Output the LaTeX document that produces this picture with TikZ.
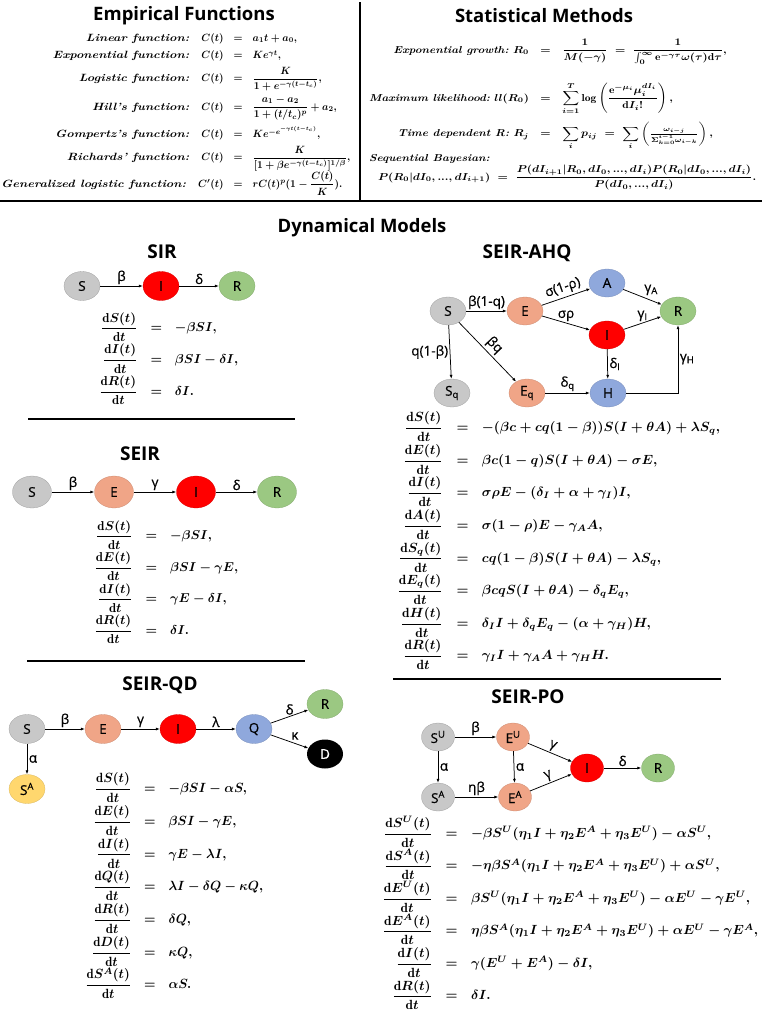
\documentclass[tikz,border=0pt]{standalone}
\usepackage{fontspec}
\usepackage{amsmath}
\usepackage{graphicx}
\usetikzlibrary{shapes.geometric,arrows.meta}
\newfontfamily\osans{Open Sans}
\newfontfamily\osansm{Open Sans}[FakeBold=0.6]
\definecolor{susc}{RGB}{200,200,200}
\definecolor{expd}{RGB}{240,165,135}
\definecolor{infc}{RGB}{255,0,0}
\definecolor{recv}{RGB}{155,200,130}
\definecolor{hosp}{RGB}{143,168,220}
\definecolor{aware}{RGB}{255,215,110}
% fraction rows get a fixed height so all rows sit evenly
\newcommand{\rate}[1]{\rule[-8.5pt]{0pt}{24.5pt}\dfrac{\mathrm{d}#1(t)}{\mathrm{d}t}}
\newcommand{\gap}[1]{\noalign{\vskip #1pt}}
\newcommand{\fname}[1]{\scalebox{1.25}[1]{\textit{#1}}\hspace{12pt}}
\newcommand{\eqblock}[3]{\resizebox*{#1pt}{#2pt}{$\begin{array}{@{}rcl@{}}#3\end{array}$}}
\begin{document}
\begin{tikzpicture}[x=1pt, y=-1pt,
  comp/.style={ellipse, inner sep=0pt, minimum width=36pt, minimum height=29pt,
    line width=0.3pt, font=\osansm\fontsize{13.5}{13.5}\selectfont},
  compS/.style={comp, fill=susc, draw=susc!80!black},
  compE/.style={comp, fill=expd, draw=expd!85!black},
  compI/.style={comp, fill=infc, draw=infc!85!black},
  compR/.style={comp, fill=recv, draw=recv!85!black},
  compH/.style={comp, fill=hosp, draw=hosp!85!black},
  compD/.style={comp, fill=black, text=white},
  compY/.style={comp, fill=aware, draw=aware!85!black},
  flow/.style={-{Latex[length=4pt,width=3pt]}, line width=0.75pt},
  lbl/.style={font=\osansm\fontsize{13.5}{13.5}\selectfont, inner sep=1.5pt},
  head/.style={font=\osans\bfseries\fontsize{18.5}{20}\selectfont},
  model/.style={font=\osans\bfseries\fontsize{19}{20}\selectfont},
  eqs/.style={anchor=north west, inner sep=0pt, font=\bfseries\boldmath},
  rule/.style={line width=2pt}]
\useasboundingbox (0,0) rectangle (762,1012);

% top panels
\node[head] (empTitle) at (184,16) {Empirical Functions};
\node[head] (statTitle) at (544,16) {Statistical Methods};
\draw[line width=2.5pt] (360,2) -- (360,201);
\draw[line width=2.5pt] (0,201) -- (762,201);
\node[eqs] (empEqs) at (1,32) {\eqblock{349}{163}{
  \fname{Linear function:} C(t) &=& a_1t+a_0,\\ \gap{5}
  \fname{Exponential function:} C(t) &=& Ke^{\gamma t},\\ \gap{4}
  \fname{Logistic function:} C(t) &=& \dfrac{K}{1+e^{-\gamma(t-t_c)}},\\ \gap{4}
  \fname{Hill's function:} C(t) &=& \dfrac{a_1-a_2}{1+(t/t_c)^p}+a_2,\\ \gap{6}
  \fname{Gompertz's function:} C(t) &=& Ke^{-e^{-\gamma t(t-t_c)}},\\ \gap{4}
  \fname{Richards' function:} C(t) &=& \dfrac{K}{[1+\beta e^{-\gamma(t-t_c)}]^{1/\beta}},\\ \gap{0}
  \fname{Generalized logistic function:} C'(t) &=& rC(t)^p(1-\dfrac{C(t)}{K}).}};
\node[eqs] (statEqs) at (369,39) {\eqblock{387}{151}{
  \textit{Exponential growth:}\ R_0 &=& \dfrac{1}{M(-\gamma)}\;=\;\dfrac{1}{\int_0^{\infty}\mathrm{e}^{-\gamma\tau}\omega(\tau)\mathrm{d}\tau},\\ \gap{18}
  \textit{Maximum likelihood:}\ ll(R_0) &=& \displaystyle\sum_{i=1}^{T}\log\left(\dfrac{\mathrm{e}^{-\mu_i}\mu_i^{dI_i}}{\mathrm{d}I_i!}\right),\\ \gap{8}
  \textit{Time dependent R:}\ R_j &=& \displaystyle\sum_i p_{ij}\;=\;\sum_i\left(\tfrac{\omega_{i-j}}{\Sigma_{k=0}^{i-1}\omega_{i-k}}\right),\\ \gap{3}
  \multicolumn{3}{@{}l}{\textit{Sequential Bayesian:}}\\
  \multicolumn{3}{@{}l@{}}{\ \ P(R_0|dI_0,...,dI_{i+1})\;=\;\dfrac{P(dI_{i+1}|R_0,dI_0,...,dI_i)P(R_0|dI_0,...,dI_i)}{P(dI_0,...,dI_i)}.}}};

\node[head] (dynTitle) at (362,228) {Dynamical Models};

% SIR
\node[model] (sirTitle) at (162,252) {SIR};
\node[compS] (sirS) at (82,286) {S};
\node[compI] (sirI) at (161,286) {I};
\node[compR] (sirR) at (237,286) {R};
\draw[flow] (sirS) -- node[lbl,above] {β} (sirI);
\draw[flow] (sirI) -- node[lbl,above] {δ} (sirR);
\node[eqs] (sirEqs) at (99,311) {\eqblock{139}{95}{
  \rate{S} &=& -\beta SI,\\
  \rate{I} &=& \beta SI-\delta I,\\
  \rate{R} &=& \delta I.}};
\draw[rule] (28,419) -- (295,419);

% SEIR
\node[model] (seirTitle) at (140,454) {SEIR};
\node[compS, minimum width=39pt, minimum height=32pt] (seirS) at (32,492) {S};
\node[compE, minimum width=39pt, minimum height=32pt] (seirE) at (114,492) {E};
\node[compI, minimum width=39pt, minimum height=32pt] (seirI) at (196,492) {I};
\node[compR, minimum width=39pt, minimum height=32pt] (seirR) at (277,492) {R};
\draw[flow] (seirS) -- node[lbl,above] {β} (seirE);
\draw[flow] (seirE) -- node[lbl,above] {γ} (seirI);
\draw[flow] (seirI) -- node[lbl,above] {δ} (seirR);
\node[eqs] (seirEqs) at (94,519) {\eqblock{144}{126}{
  \rate{S} &=& -\beta SI,\\
  \rate{E} &=& \beta SI-\gamma E,\\
  \rate{I} &=& \gamma E-\delta I,\\
  \rate{R} &=& \delta I.}};
\draw[rule] (27,661) -- (305,661);

% SEIR-QD
\node[model] (qdTitle) at (160,685) {SEIR-QD};
\node[compS] (qdS) at (27,729) {S};
\node[compE] (qdE) at (103,729) {E};
\node[compI] (qdI) at (178,729) {I};
\node[compH] (qdQ) at (254,729) {Q};
\node[compR] (qdR) at (325,704) {R};
\node[compD] (qdD) at (325,754) {D};
\node[compY] (qdSA) at (27,789) {S\textsuperscript{A}};
\draw[flow] (qdS) -- node[lbl,above] {β} (qdE);
\draw[flow] (qdE) -- node[lbl,above] {γ} (qdI);
\draw[flow] (qdI) -- node[lbl,above] {λ} (qdQ);
\draw[flow] (qdQ) -- node[lbl,above] {δ} (qdR);
\draw[flow] (qdQ) -- node[lbl,above right] {κ} (qdD);
\draw[flow] (qdS) -- node[lbl,right] {α} (qdSA);
\node[eqs] (qdEqs) at (85,771) {\eqblock{178}{229}{
  \rate{S} &=& -\beta SI-\alpha S,\\
  \rate{E} &=& \beta SI-\gamma E,\\
  \rate{I} &=& \gamma E-\lambda I,\\
  \rate{Q} &=& \lambda I-\delta Q-\kappa Q,\\
  \rate{R} &=& \delta Q,\\
  \rate{D} &=& \kappa Q,\\
  \rate{S^A} &=& \alpha S.}};

% SEIR-AHQ
\node[model] (ahqTitle) at (527,253) {SEIR-AHQ};
\node[compS, minimum height=28pt] (ahqS) at (448,311) {S};
\node[compE, minimum height=28pt] (ahqE) at (525,311) {E};
\node[compH, minimum height=28pt] (ahqA) at (607,283) {A};
\node[compI, minimum height=28pt] (ahqI) at (607,335) {I};
\node[compR, minimum height=28pt] (ahqR) at (678,311) {R};
\node[compS, minimum height=28pt] (ahqSq) at (452,393) {S\textsubscript{q}};
\node[compE, minimum height=28pt] (ahqEq) at (527,393) {E\textsubscript{q}};
\node[compH, minimum height=28pt] (ahqH) at (608,393) {H};
\draw[flow] (ahqS) -- node[lbl,above] {β(1-q)} (ahqE);
\draw[flow] (ahqE) -- node[lbl,above=1pt,sloped] {σ(1-ρ)} (ahqA);
\draw[flow] (ahqE) -- node[lbl,above] {σρ} (ahqI);
\draw[flow] (ahqA) -- node[lbl,above right] {γ\textsubscript{A}} (ahqR);
\draw[flow] (ahqI) -- node[lbl,above] {γ\textsubscript{I}} (ahqR);
\draw[flow] (ahqS) -- node[lbl,left] {q(1-β)} (ahqSq);
\draw[flow] (ahqS) -- node[lbl,above=1pt,sloped] {βq} (ahqEq);
\draw[flow] (ahqI) -- node[lbl,right] {δ\textsubscript{I}} (ahqH);
\draw[flow] (ahqEq) -- node[lbl,above] {δ\textsubscript{q}} (ahqH);
\draw[flow] (ahqH) -| node[lbl,pos=0.75,right] {γ\textsubscript{H}} (ahqR);
\node[eqs] (ahqEqs) at (397,410) {\eqblock{323}{261}{
  \rate{S} &=& -(\beta c+cq(1-\beta))S(I+\theta A)+\lambda S_q,\\
  \rate{E} &=& \beta c(1-q)S(I+\theta A)-\sigma E,\\
  \rate{I} &=& \sigma\rho E-(\delta_I+\alpha+\gamma_I)I,\\
  \rate{A} &=& \sigma(1-\rho)E-\gamma_A A,\\
  \rate{S_q} &=& cq(1-\beta)S(I+\theta A)-\lambda S_q,\\
  \rate{E_q} &=& \beta cqS(I+\theta A)-\delta_q E_q,\\
  \rate{H} &=& \delta_I I+\delta_q E_q-(\alpha+\gamma_H)H,\\
  \rate{R} &=& \gamma_I I+\gamma_A A+\gamma_H H.}};
\draw[rule] (393,679) -- (721,679);

% SEIR-PO
\node[model] (poTitle) at (528,697) {SEIR-PO};
\node[compS, minimum width=33pt, minimum height=28pt] (poSU) at (438,737) {S\textsuperscript{U}};
\node[compE, minimum width=33pt, minimum height=28pt] (poEU) at (513,737) {E\textsuperscript{U}};
\node[compI, minimum width=33pt, minimum height=28pt] (poI) at (587,768) {I};
\node[compR, minimum width=33pt, minimum height=28pt] (poR) at (658,768) {R};
\node[compS, minimum width=33pt, minimum height=28pt] (poSA) at (438,797) {S\textsuperscript{A}};
\node[compE, minimum width=33pt, minimum height=28pt] (poEA) at (515,797) {E\textsuperscript{A}};
\draw[flow] (poSU) -- node[lbl,above] {β} (poEU);
\draw[flow] (poSU) -- node[lbl,right] {α} (poSA);
\draw[flow] (poEU) -- node[lbl,right] {α} (poEA);
\draw[flow] (poEU) -- node[lbl,above,sloped] {γ} (poI);
\draw[flow] (poEA) -- node[lbl,above,sloped] {γ} (poI);
\draw[flow] (poI) -- node[lbl,above] {δ} (poR);
\draw[flow] (poSA) -- node[lbl,above] {ηβ} (poEA);
\node[eqs] (poEqs) at (382,816) {\eqblock{376}{195}{
  \rate{S^U} &=& -\beta S^U(\eta_1I+\eta_2E^A+\eta_3E^U)-\alpha S^U,\\
  \rate{S^A} &=& -\eta\beta S^A(\eta_1I+\eta_2E^A+\eta_3E^U)+\alpha S^U,\\
  \rate{E^U} &=& \beta S^U(\eta_1I+\eta_2E^A+\eta_3E^U)-\alpha E^U-\gamma E^U,\\
  \rate{E^A} &=& \eta\beta S^A(\eta_1I+\eta_2E^A+\eta_3E^U)+\alpha E^U-\gamma E^A,\\
  \rate{I} &=& \gamma(E^U+E^A)-\delta I,\\
  \rate{R} &=& \delta I.}};
\end{tikzpicture}
\end{document}
